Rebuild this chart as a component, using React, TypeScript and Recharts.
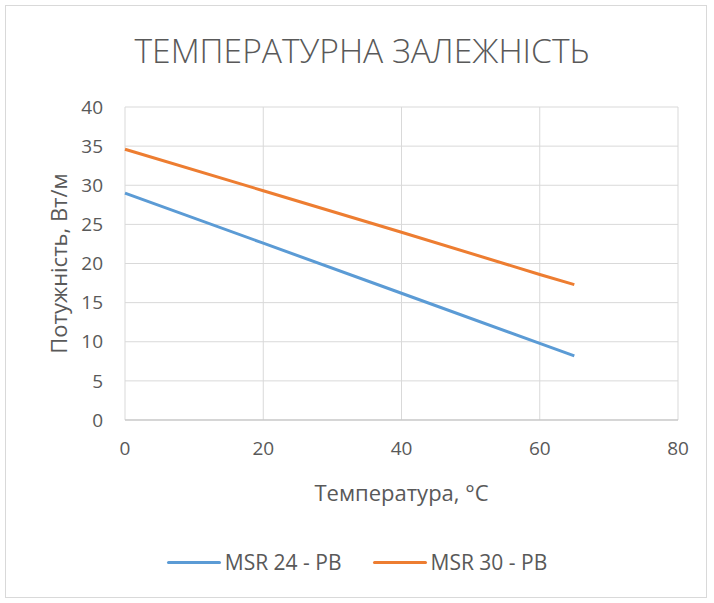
import React from 'react';
import { LineChart, Line, XAxis, YAxis, CartesianGrid, Legend } from 'recharts';

// ── Дані ────────────────────────────────────────────────────────────────────
const TEMPS = [0, 20, 40, 60, 65];
const MSR24 = [29.0, 22.6, 16.2, 9.8, 8.2];
const MSR30 = [34.6, 29.3, 24.0, 18.6, 17.3];
const X_TICKS = [0, 20, 40, 60, 80];
const Y_TICKS = [0, 5, 10, 15, 20, 25, 30, 35, 40];

const SERIES = [
  { key: 'msr24', name: 'MSR 24 - PB', color: '#5B9BD5' },
  { key: 'msr30', name: 'MSR 30 - PB', color: '#ED7D31' },
];

const TITLE = 'ТЕМПЕРАТУРНА ЗАЛЕЖНІСТЬ';
const X_LABEL = 'Температура, °С';
const Y_LABEL = 'Потужність, Вт/м';

const FONT = '"Open Sans", "Noto Sans", sans-serif';
const TEXT = '#595959';

const data = TEMPS.map((t, i) => ({ t, msr24: MSR24[i], msr30: MSR30[i] }));

const LegendContent = () => (
  <div style={{ display: 'flex', justifyContent: 'center', alignItems: 'center', gap: 31, fontFamily: FONT }}>
    {SERIES.map(s => (
      <span key={s.key} style={{ display: 'flex', alignItems: 'center', gap: 4 }}>
        <span style={{ display: 'inline-block', width: 54, height: 3, borderRadius: 2, background: s.color }} />
        <span style={{ fontSize: 21, color: TEXT }}>{s.name}</span>
      </span>
    ))}
  </div>
);

export default function App() {
  return (
    <div style={{ position: 'absolute', left: 0, top: 0, width: 714, height: 603, background: '#fff' }}>
      <div
        style={{
          position: 'absolute', left: 5, top: 5, width: 700, height: 591,
          border: '1px solid #d9d9d9',
        }}
      />
      <svg style={{ position: 'absolute', left: 0, top: 0 }} width={714} height={80}>
        <text
          x={362}
          y={50}
          textAnchor="middle"
          dominantBaseline="central"
          fontFamily={FONT}
          fontWeight={300}
          fontSize={33}
          fill={TEXT}
          textLength={455}
          lengthAdjust="spacingAndGlyphs"
        >
          {TITLE}
        </text>
      </svg>
      <div style={{ position: 'absolute', left: 0, top: 0 }}>
        <LineChart width={714} height={603} data={data} margin={{ top: 107, right: 36, bottom: 123, left: 65 }}>
          <CartesianGrid stroke="#d9d9d9" strokeWidth={1} />
          <XAxis
            dataKey="t"
            type="number"
            domain={[0, 80]}
            ticks={X_TICKS}
            height={60}
            tickSize={0}
            tickMargin={22}
            stroke="#bfbfbf"
            tick={{ fontSize: 19, fill: TEXT, fontFamily: FONT }}
            label={{
              content: (p: any) => (
                <text
                  x={p.viewBox.x + p.viewBox.width / 2}
                  y={p.viewBox.y + 72}
                  textAnchor="middle"
                  dominantBaseline="central"
                  fontSize={22}
                  fontFamily={FONT}
                  fill={TEXT}
                >
                  {X_LABEL}
                </text>
              ),
            }}
          />
          <YAxis
            type="number"
            domain={[0, 40]}
            ticks={Y_TICKS}
            width={60}
            tickSize={0}
            tickMargin={22}
            axisLine={false}
            tick={{ fontSize: 19, fill: TEXT, fontFamily: FONT }}
            label={{
              content: (p: any) => {
                const cx = p.viewBox.x - 7;
                const cy = p.viewBox.y + p.viewBox.height / 2;
                return (
                  <text
                    x={cx}
                    y={cy}
                    transform={`rotate(-90 ${cx} ${cy})`}
                    textAnchor="middle"
                    dominantBaseline="central"
                    fontSize={22}
                    fontFamily={FONT}
                    fill={TEXT}
                  >
                    {Y_LABEL}
                  </text>
                );
              },
            }}
          />
          <Legend
            layout="horizontal"
            verticalAlign="middle"
            align="center"
            wrapperStyle={{ top: 548, left: 0, width: 714 }}
            content={LegendContent}
          />
          {SERIES.map(s => (
            <Line
              key={s.key}
              type="linear"
              dataKey={s.key}
              name={s.name}
              stroke={s.color}
              strokeWidth={3}
              dot={false}
              isAnimationActive={false}
            />
          ))}
        </LineChart>
      </div>
    </div>
  );
}
